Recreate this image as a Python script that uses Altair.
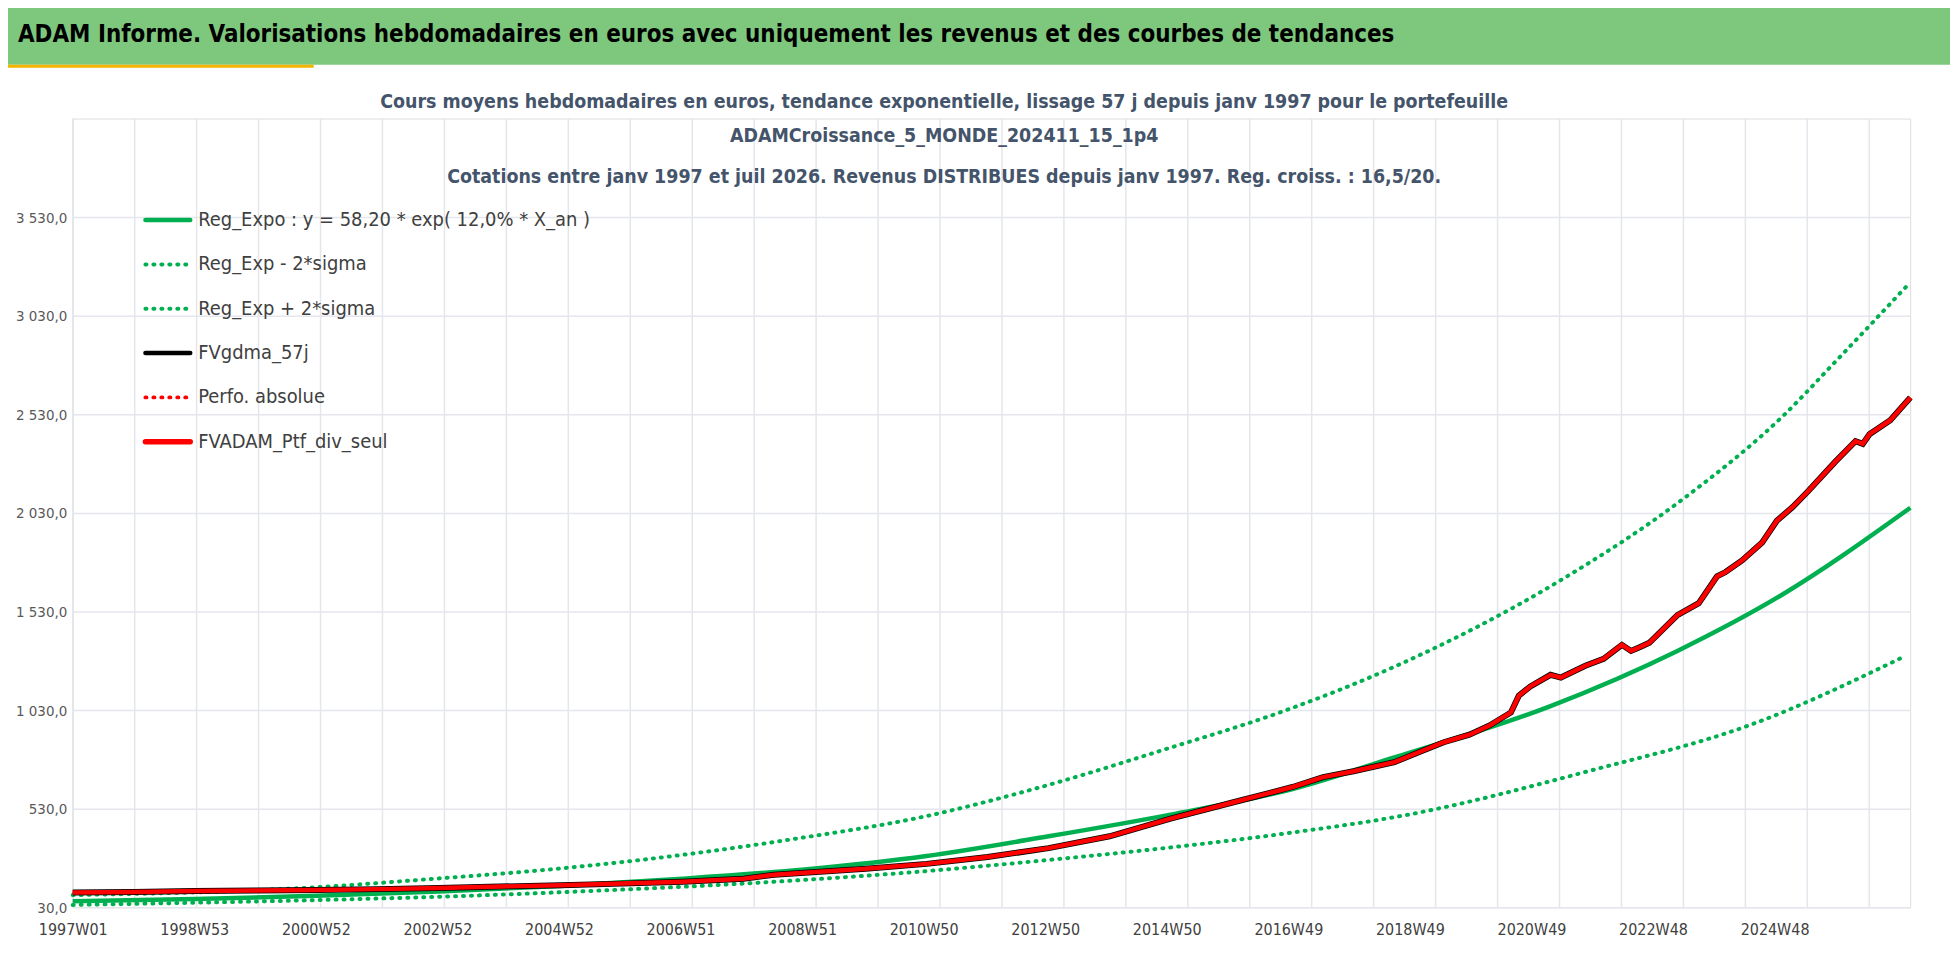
import pandas as pd
import altair as alt

FONT = "DejaVu Sans Condensed, Liberation Sans, sans-serif"

# Trend curves
expo_years = [1997, 1999, 2001, 2003, 2005, 2007, 2009, 2011, 2013, 2015, 2017, 2018.67, 2021.23, 2023.31, 2025.0, 2027.13]
reg_expo = [60, 72, 88, 110, 138, 175, 222, 290, 390, 500, 630, 790, 1050, 1330, 1610, 2056]
plus_years = [1997, 2000.9, 2002.9, 2004.9, 2006.9, 2008.9, 2010.9, 2012.9, 2014.9, 2016.9, 2018.67, 2021.35, 2023.4, 2025.07, 2025.88, 2027.13]
reg_plus = [92, 130, 174, 224, 292, 380, 486, 642, 830, 1030, 1250, 1680, 2100, 2530, 2790, 3200]
minus_years = [1997, 2004.9, 2008.9, 2010.9, 2012.9, 2014.9, 2016.9, 2018.9, 2021.92, 2024.48, 2027.05]
reg_minus = [42, 105, 167, 211, 267, 330, 405, 500, 726, 952, 1305]

# Portfolio
ptf_years = [1997, 1998, 1999, 2000, 2001, 2002, 2003, 2004, 2005, 2006, 2007, 2008, 2008.5, 2009,
             2010, 2011, 2012, 2013, 2014, 2015, 2016, 2017, 2017.5, 2018, 2018.67, 2019.1, 2019.48,
             2019.9, 2020.23, 2020.58, 2020.71, 2020.9, 2021.23, 2021.4, 2021.8, 2022.1, 2022.4, 2022.55,
             2022.7, 2022.85, 2023.31, 2023.66, 2023.96, 2024.1, 2024.37, 2024.7, 2024.94, 2025.2,
             2025.46, 2025.9, 2026.23, 2026.35, 2026.46, 2026.8, 2027.13]
ptf_vals = [105, 108, 112, 115, 118, 122, 128, 135, 142, 150, 160, 175, 195, 205,
            225, 250, 285, 330, 390, 480, 560, 640, 690, 720, 766, 820, 867,
            905, 952, 1018, 1103, 1150, 1209, 1195, 1255, 1290, 1361, 1330,
            1350, 1371, 1512, 1572, 1708, 1730, 1789, 1880, 1990, 2060,
            2142, 2290, 2394, 2380, 2429, 2500, 2615]

week_labels = ["1997W01", "1998W53", "2000W52", "2002W52", "2004W52", "2006W51", "2008W51",
               "2010W50", "2012W50", "2014W50", "2016W49", "2018W49", "2020W49", "2022W48", "2024W48"]
y_ticks = [30, 530, 1030, 1530, 2030, 2530, 3030, 3530]

legend_names = ["Reg_Expo : y = 58,20 * exp( 12,0% *  X_an )", "Reg_Exp - 2*sigma", "Reg_Exp + 2*sigma",
                "FVgdma_57j", "Perfo. absolue", "FVADAM_Ptf_div_seul"]

title_lines = ["Cours moyens hebdomadaires  en euros, tendance exponentielle, lissage 57 j depuis janv 1997 pour le portefeuille",
               "ADAMCroissance_5_MONDE_202411_15_1p4",
               "Cotations  entre janv 1997 et juil 2026. Revenus DISTRIBUES depuis janv 1997. Reg. croiss. : 16,5/20."]
header = "ADAM Informe. Valorisations hebdomadaires en euros avec uniquement les revenus et des courbes de tendances"

W, H = 1845, 792
GREEN = "#00B050"


def wk(y):
    return (y - 1997) * 52.18


def series(years, vals):
    return pd.DataFrame({"w": [wk(y) for y in years], "v": vals})


xs = alt.Scale(domain=[0, 1572], nice=False, zero=False)
ys = alt.Scale(domain=[30, 4030], nice=False, zero=False)
label_expr = "[" + ",".join("'%s'" % s for s in week_labels) + "][round(datum.value/104)]"
y_expr = "replace(replace(replace(format(datum.value, ',.1f'), ',', 'X'), '.', ','), 'X', ' ')"

xax = alt.Axis(values=[i * 104 for i in range(len(week_labels))], labelExpr=label_expr, grid=False,
               domain=False, ticks=False, title=None, labelFontSize=16, labelColor="#404040",
               labelFont=FONT, labelPadding=14, labelFlush=False)
yax = alt.Axis(values=y_ticks, labelExpr=y_expr, gridColor="#E4E6EC", gridWidth=1.5, domain=False,
               ticks=False, title=None, labelFontSize=15, labelColor="#595959", labelFont=FONT,
               labelPadding=6, labelFlush=False)

X = alt.X("w:Q", scale=xs, axis=xax)
Y = alt.Y("v:Q", scale=ys, axis=yax)

# yearly vertical gridlines
grid = alt.Chart(pd.DataFrame({"w": [i * 53 for i in range(30)]})).mark_rule(
    color="#E4E6EC", strokeWidth=1.5).encode(x=X)

expo = alt.Chart(series(expo_years, reg_expo)).mark_line(
    color=GREEN, strokeWidth=4.5, interpolate="monotone").encode(x=X, y=Y)
plus = alt.Chart(series(plus_years, reg_plus)).mark_line(
    color=GREEN, strokeWidth=4, strokeDash=[1, 7], strokeCap="round", interpolate="monotone").encode(x=X, y=Y)
minus = alt.Chart(series(minus_years, reg_minus)).mark_line(
    color=GREEN, strokeWidth=4, strokeDash=[1, 7], strokeCap="round", interpolate="monotone").encode(x=X, y=Y)

base_p = alt.Chart(series(ptf_years, ptf_vals))
black = base_p.mark_line(color="black", strokeWidth=6).encode(x=X, y=Y)
perfo = base_p.mark_line(color="red", strokeWidth=3, strokeDash=[2, 4]).encode(x=X, y=Y)
red = base_p.mark_line(color="#FF0000", strokeWidth=4.5).encode(x=X, y=Y)

# legend
leg_styles = [(GREEN, 4.5, [1, 0]), (GREEN, 4, [1, 7]), (GREEN, 4, [1, 7]),
              ("black", 4.5, [1, 0]), ("red", 4, [1, 7]), ("red", 5.5, [1, 0])]
legend = []
for i, (name, (col, sw, dash)) in enumerate(zip(legend_names, leg_styles)):
    yy = 102 + i * 44.5
    legend.append(alt.Chart(pd.DataFrame({"n": [name]})).mark_rule(
        color=col, strokeWidth=sw, strokeDash=dash, strokeCap="round").encode(
        x=alt.value(73), x2=alt.value(118), y=alt.value(yy)))
    legend.append(alt.Chart(pd.DataFrame({"n": [name]})).mark_text(
        align="left", baseline="middle", font=FONT, fontSize=20, color="#404040").encode(
        text="n:N", x=alt.value(126), y=alt.value(yy)))

# header and titles
one = pd.DataFrame({"t": [header]})
band = alt.Chart(one).mark_rect(color="#7DC87D").encode(
    x=alt.value(-73), x2=alt.value(1885), y=alt.value(-117), y2=alt.value(-54))
gold = alt.Chart(one).mark_rect(color="#F4B400").encode(
    x=alt.value(-73), x2=alt.value(242), y=alt.value(-54), y2=alt.value(-51))
gold2 = alt.Chart(one).mark_rect(color="#F4B400").encode(
    x=alt.value(-73), x2=alt.value(-66), y=alt.value(-54), y2=alt.value(-22))
head_txt = alt.Chart(one).mark_text(
    align="left", baseline="middle", font=FONT, fontSize=24, fontWeight="bold", color="black").encode(
    text="t:N", x=alt.value(-55), y=alt.value(-84))
titles = []
for t, yy in zip(title_lines, [-17, 18, 59]):
    titles.append(alt.Chart(pd.DataFrame({"t": [t]})).mark_text(
        align="center", baseline="middle", font=FONT, fontSize=19.5, fontWeight="bold", color="#44546A").encode(
        text="t:N", x=alt.value(875), y=alt.value(yy)))

chart = alt.layer(band, gold, gold2, head_txt, grid, minus, plus, expo, perfo, black, red,
                  *titles, *legend).properties(
    width=W, height=H, autosize=alt.AutoSizeParams(type="none"),
    padding={"left": 65, "top": 109, "right": 40, "bottom": 60}
).configure_view(stroke=None).configure(background="white")

chart.save("out.html", embed_options={"renderer": "svg", "actions": False})
